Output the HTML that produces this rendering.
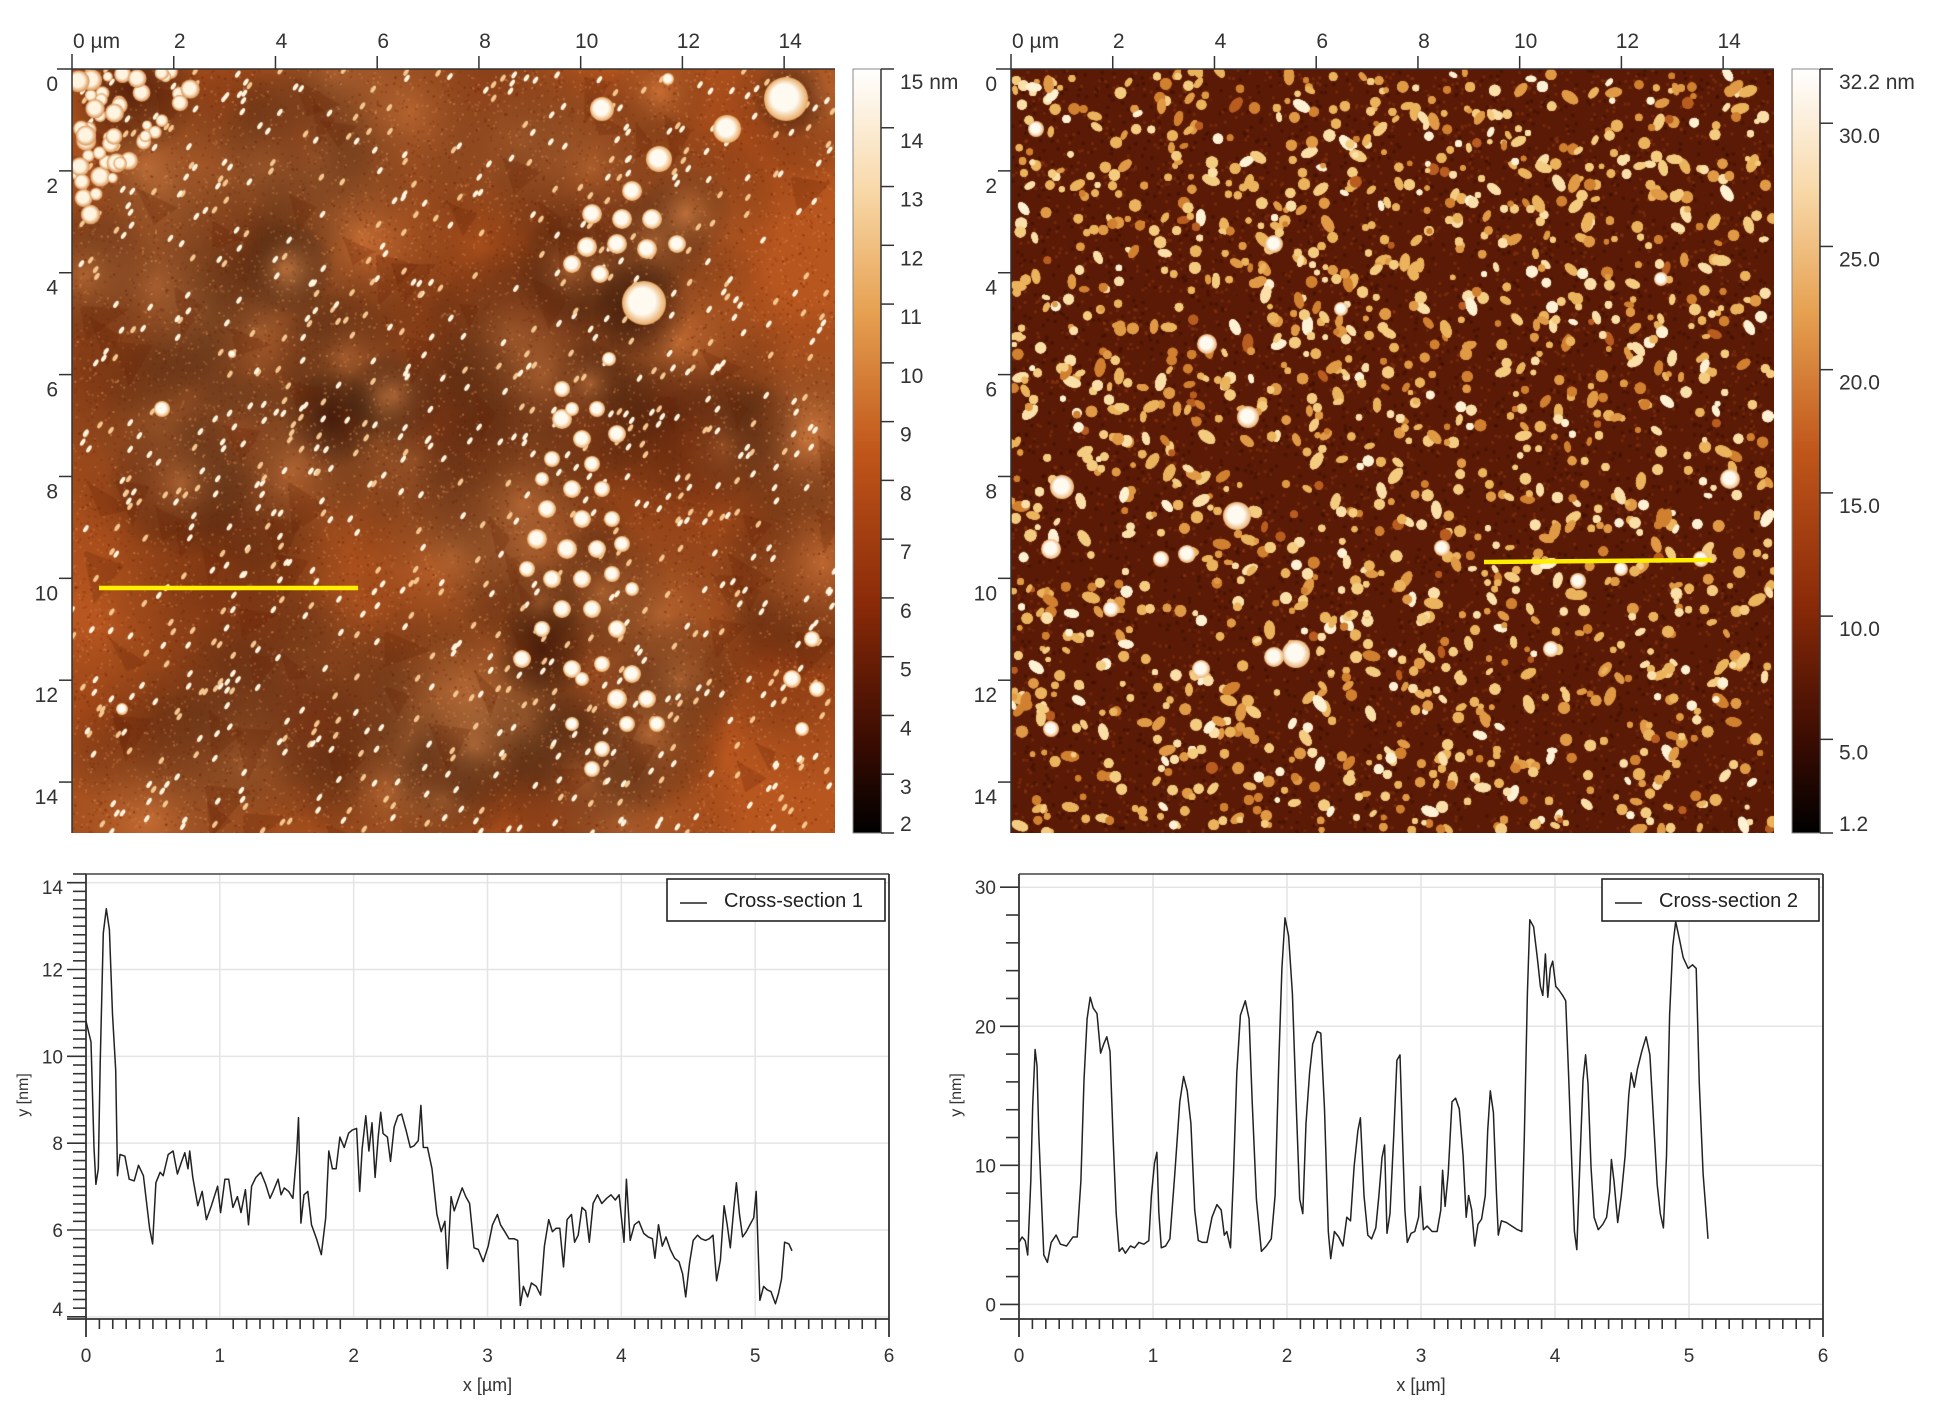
<!DOCTYPE html>
<html><head><meta charset="utf-8">
<style>
html,body{margin:0;padding:0;background:#fff;}
body{width:1942px;height:1415px;position:relative;overflow:hidden;font-family:"Liberation Sans",sans-serif;}
canvas{position:absolute;}
svg{position:absolute;left:0;top:0;}
</style></head>
<body>
<canvas id="img1" width="763" height="764" style="left:72px;top:69px"></canvas>
<canvas id="img2" width="763" height="764" style="left:1011px;top:69px"></canvas>
<svg id="ov" width="1942" height="1415"></svg>
<script>
// ---------- chart data ----------
const cs1X=[0,.037,.060,.074,.092,.106,.129,.152,.175,.198,.222,.235,.254,.291,.323,.360,.392,.429,.475,.498,.522,.554,.577,.614,.651,.683,.715,.738,.762,.775,.798,.835,.868,.900,.937,.983,1.006,1.038,1.066,1.098,1.131,1.158,1.191,1.214,1.237,1.269,1.306,1.343,1.375,1.398,1.435,1.458,1.482,1.514,1.546,1.574,1.588,1.606,1.629,1.657,1.685,1.722,1.758,1.791,1.814,1.841,1.869,1.897,1.929,1.962,1.989,2.022,2.045,2.063,2.091,2.114,2.137,2.160,2.183,2.202,2.220,2.252,2.275,2.303,2.331,2.358,2.391,2.423,2.451,2.483,2.502,2.520,2.552,2.585,2.622,2.654,2.682,2.700,2.728,2.751,2.783,2.811,2.838,2.866,2.899,2.931,2.968,3.005,3.037,3.074,3.097,3.129,3.161,3.198,3.226,3.245,3.268,3.300,3.328,3.365,3.397,3.425,3.457,3.485,3.512,3.540,3.568,3.595,3.628,3.651,3.678,3.706,3.734,3.761,3.789,3.822,3.854,3.891,3.923,3.955,3.983,4.020,4.038,4.066,4.098,4.131,4.168,4.200,4.232,4.251,4.278,4.306,4.334,4.366,4.398,4.431,4.458,4.481,4.509,4.537,4.569,4.597,4.629,4.657,4.685,4.712,4.740,4.768,4.791,4.814,4.841,4.860,4.883,4.906,4.934,4.961,4.989,5.008,5.035,5.063,5.091,5.118,5.151,5.174,5.197,5.220,5.252,5.275];
const cs1Y=[10.81,10.33,7.90,7.05,7.41,9.84,12.84,13.40,12.92,10.97,9.68,7.25,7.74,7.70,7.17,7.13,7.49,7.25,6.04,5.68,7.09,7.33,7.25,7.74,7.82,7.29,7.58,7.78,7.41,7.82,7.21,6.56,6.89,6.24,6.56,7.01,6.40,7.17,7.17,6.52,6.77,6.40,6.93,6.12,7.01,7.21,7.33,7.05,6.73,6.89,7.17,6.81,6.97,6.89,6.73,7.78,8.59,6.16,6.81,6.89,6.12,5.80,5.43,6.28,7.82,7.41,7.41,8.14,7.90,8.23,8.30,8.34,6.89,7.86,8.63,7.82,8.47,7.21,8.14,8.71,8.22,8.14,7.58,8.38,8.63,8.67,8.30,7.90,7.94,8.06,8.87,7.90,7.90,7.41,6.36,5.96,6.20,5.11,6.77,6.44,6.73,6.97,6.77,6.61,5.59,5.55,5.27,5.63,6.12,6.36,6.12,5.96,5.80,5.80,5.76,4.26,4.70,4.46,4.78,4.70,4.50,5.63,6.24,5.96,6.04,6.04,5.15,6.24,6.36,5.72,5.88,6.52,6.44,5.72,6.61,6.81,6.61,6.73,6.81,6.69,6.81,5.72,7.17,5.76,6.12,6.20,5.92,5.84,5.80,5.35,6.12,5.63,5.84,5.55,5.35,5.27,4.99,4.46,5.23,5.76,5.88,5.80,5.76,5.80,5.88,4.83,5.31,6.56,6.12,5.59,6.52,7.09,6.36,5.84,5.96,6.12,6.28,6.89,4.38,4.70,4.62,4.58,4.30,4.54,4.87,5.72,5.68,5.52];
const cs2X=[0,.023,.046,.065,.088,.102,.120,.134,.148,.171,.185,.212,.240,.277,.309,.355,.402,.434,.462,.485,.508,.531,.554,.582,.609,.632,.655,.679,.702,.725,.748,.771,.794,.831,.863,.895,.932,.969,.988,1.011,1.029,1.043,1.062,1.094,1.126,1.163,1.200,1.228,1.255,1.283,1.311,1.338,1.371,1.403,1.440,1.477,1.509,1.532,1.551,1.578,1.601,1.625,1.652,1.689,1.717,1.740,1.772,1.809,1.846,1.883,1.911,1.938,1.962,1.985,2.012,2.040,2.068,2.095,2.118,2.142,2.169,2.192,2.225,2.252,2.280,2.308,2.326,2.354,2.386,2.418,2.446,2.474,2.501,2.529,2.548,2.575,2.603,2.631,2.663,2.686,2.709,2.728,2.746,2.769,2.797,2.820,2.843,2.862,2.880,2.898,2.926,2.954,2.982,2.995,3.018,3.046,3.083,3.120,3.148,3.161,3.180,3.203,3.231,3.258,3.286,3.314,3.337,3.355,3.378,3.401,3.425,3.452,3.480,3.498,3.517,3.540,3.563,3.577,3.600,3.637,3.678,3.720,3.752,3.771,3.794,3.812,3.840,3.868,3.891,3.909,3.928,3.946,3.965,3.983,4.006,4.029,4.057,4.080,4.103,4.126,4.145,4.163,4.186,4.209,4.228,4.246,4.269,4.292,4.323,4.357,4.385,4.408,4.421,4.440,4.468,4.495,4.523,4.551,4.569,4.592,4.615,4.648,4.680,4.708,4.735,4.763,4.786,4.809,4.832,4.855,4.878,4.901,4.929,4.957,4.994,5.026,5.054,5.077,5.105,5.132,5.142];
const cs2Y=[4.46,4.85,4.59,3.55,8.87,14.31,18.33,17.16,12.24,6.79,3.55,3.03,4.46,4.98,4.33,4.20,4.85,4.85,8.87,16.13,20.53,22.09,21.31,20.92,18.07,18.72,19.24,18.20,11.98,6.53,3.81,4.07,3.68,4.20,4.07,4.46,4.33,4.59,7.83,10.16,10.94,6.66,4.07,4.20,4.72,9.39,14.57,16.39,15.35,13.02,6.79,4.59,4.46,4.46,6.27,7.18,6.79,4.98,5.24,4.07,9.39,16.65,20.79,21.83,20.53,14.57,7.57,3.81,4.20,4.72,7.83,17.16,24.16,27.79,26.50,22.35,14.57,7.57,6.53,13.02,16.65,18.72,19.63,19.50,14.05,5.24,3.29,5.24,4.85,4.20,6.27,6.01,9.90,12.50,13.41,7.83,4.98,4.72,5.50,7.83,10.55,11.46,5.11,6.53,12.24,17.55,17.94,11.98,6.79,4.46,5.11,5.24,6.27,8.48,5.37,5.63,5.24,5.24,6.79,9.65,7.05,9.39,14.57,14.83,14.05,10.68,6.27,7.83,6.79,4.20,5.76,6.14,7.83,12.50,15.35,13.80,8.09,4.98,6.01,5.89,5.63,5.37,5.24,11.98,22.35,27.66,27.15,24.94,22.87,22.22,25.20,22.09,24.16,24.68,22.87,22.61,22.22,21.83,16.13,9.90,5.24,3.94,10.16,16.13,17.94,15.87,9.90,6.27,5.37,5.76,6.27,8.09,10.42,8.87,5.89,7.83,10.68,15.09,16.65,15.61,16.91,18.20,19.24,17.94,13.28,8.61,6.53,5.50,10.68,20.79,25.72,27.53,26.24,24.94,24.16,24.42,24.16,15.87,9.39,6.01,4.72];
const xTicks=[0,1,2,3,4,5,6];
const y1Ticks=[4,6,8,10,12,14];
const y2Ticks=[0,10,20,30];
const imgTicks=[0,2,4,6,8,10,12,14];
const cb1Ticks=[2,3,4,5,6,7,8,9,10,11,12,13,14,15];
const cb1Labels=["2","3","4","5","6","7","8","9","10","11","12","13","14","15 nm"];
const cb2Ticks=[1.2,5,10,15,20,25,30,32.2];
const cb2Labels=["1.2","5.0","10.0","15.0","20.0","25.0","30.0","32.2 nm"];

const NS="http://www.w3.org/2000/svg";
const ov=document.getElementById('ov');
function mk(tag,attrs,parent){const e=document.createElementNS(NS,tag);for(const k in attrs)e.setAttribute(k,attrs[k]);(parent||ov).appendChild(e);return e;}
const FONT='"Liberation Sans", sans-serif';

// ---------- AFM image axes ----------
function imageAxes(ox,tag){
  const L=ox,T=69,W=763,H=764,R=15;
  const sx=v=>L+v/R*W, sy=v=>T+v/R*H;
  const g=mk('g',{});
  
  
  mk('line',{x1:L-15,y1:T,x2:L+W,y2:T,stroke:'#333','stroke-width':1.5},g);
  mk('line',{x1:L,y1:T-15,x2:L,y2:T+H,stroke:'#333','stroke-width':1.5},g);
  imgTicks.forEach(v=>{
    if(v>0){mk('line',{x1:sx(v),y1:T,x2:sx(v),y2:T-13,stroke:'#333','stroke-width':1.5},g);
            mk('line',{x1:L,y1:sy(v),x2:L-13,y2:sy(v),stroke:'#333','stroke-width':1.5},g);}
    const t=mk('text',{x:v===0?sx(v)+1:sx(v)+6,y:48,'font-size':21,'font-family':FONT,fill:'#333','text-anchor':v===0?'start':'middle'},g);
    t.textContent=v===0?'0 µm':String(v);
    
    
    const t2=mk('text',{x:L-14,y:sy(v)+22,'font-size':21,'font-family':FONT,fill:'#333','text-anchor':'end'},g);
    t2.textContent=String(v);
    
    
  });
}
imageAxes(72,'image-1');
imageAxes(1011,'image-2');

// ---------- colorbars ----------
function colorbar(x,ticks,labels,vmin,vmax,tag,id){
  const T=69,H=764,W=28;
  const def=mk('defs',{});
  const lg=mk('linearGradient',{id:id,x1:0,y1:1,x2:0,y2:0},def);
  [[0,'#000000'],[0.12,'#3a0c02'],[0.3,'#8a2a08'],[0.5,'#c0561a'],[0.68,'#e6a050'],[0.84,'#f8d8a8'],[1,'#ffffff']].forEach(s=>mk('stop',{offset:s[0],'stop-color':s[1]},lg));
  const r=mk('rect',{x:x,y:T,width:W,height:H,fill:'url(#'+id+')',stroke:'#888','stroke-width':1});
  
  
  const sy=v=>T+H-(v-vmin)/(vmax-vmin)*H;
  mk('line',{x1:x+W,y1:T,x2:x+W,y2:T+H,stroke:'#333','stroke-width':1.5});
  ticks.forEach((v,i)=>{
    mk('line',{x1:x+W,y1:sy(v),x2:x+W+13,y2:sy(v),stroke:'#333','stroke-width':1.5});
    let ly=sy(v)+20; if(ly>T+H-2)ly=T+H-2;
    const t=mk('text',{x:x+W+19,y:ly,'font-size':21,'font-family':FONT,fill:'#333'});
    t.textContent=labels[i];
    
    
  });
}
colorbar(853,cb1Ticks,cb1Labels,2,15,'colorbar-1','cbg1');
colorbar(1792,cb2Ticks,cb2Labels,1.2,32.2,'colorbar-2','cbg2');

// ---------- cross-section charts ----------
function chart(o){
  const {L,R,T,B,ymin,ymax,yTicks,minor,xs,ys,name,tag,lx1,lx2}=o;
  const sx=v=>L+v/6*(R-L), sy=v=>B-(v-ymin)/(ymax-ymin)*(B-T);
  const g=mk('g',{});
  
  
  xTicks.forEach(v=>{if(v>0&&v<6)mk('line',{x1:sx(v),y1:T,x2:sx(v),y2:B,stroke:'#e4e4e4','stroke-width':1.5},g);});
  yTicks.forEach(v=>{if(v>ymin&&v<ymax)mk('line',{x1:L,y1:sy(v),x2:R,y2:sy(v),stroke:'#e4e4e4','stroke-width':1.5},g);});
  mk('line',{x1:L,y1:T,x2:R,y2:T,stroke:'#444','stroke-width':1.5},g);
  mk('line',{x1:R,y1:T,x2:R,y2:B+18,stroke:'#333','stroke-width':1.8},g);
  mk('line',{x1:L,y1:T,x2:L,y2:B+18,stroke:'#333','stroke-width':1.8},g);
  mk('line',{x1:L-19,y1:B,x2:R,y2:B,stroke:'#333','stroke-width':1.8},g);
  for(let i=1;i<60;i++){if(i%10)mk('line',{x1:sx(i/10),y1:B,x2:sx(i/10),y2:B+10,stroke:'#333','stroke-width':1.6},g);}
  xTicks.forEach(v=>{
    const t=mk('text',{x:sx(v),y:1362,'font-size':19,'font-family':FONT,fill:'#333','text-anchor':'middle'},g);
    t.textContent=String(v);
    
    
  });
  for(let v=Math.ceil(ymin/minor)*minor;v<=ymax+1e-9;v+=minor){
    const major=yTicks.some(k=>Math.abs(k-v)<1e-6);
    mk('line',{x1:L,y1:sy(v),x2:L-(major?19:13),y2:sy(v),stroke:'#333','stroke-width':1.6},g);
  }
  yTicks.forEach(v=>{
    let y=sy(v)+7; if(y>B-3)y=B-3; if(y<T+20)y=T+20;
    const t=mk('text',{x:L-23,y:y,'font-size':19,'font-family':FONT,fill:'#333','text-anchor':'end'},g);
    t.textContent=String(v);
    
    
  });
  const xt=mk('text',{x:(L+R)/2,y:1391,'font-size':18,'font-family':FONT,fill:'#333','text-anchor':'middle'},g);
  xt.textContent='x [µm]';
  
  
  const yt=mk('text',{x:0,y:0,'font-size':16,'font-family':FONT,fill:'#333','text-anchor':'middle',transform:'translate('+(L-58)+',1095) rotate(-90)'},g);
  yt.textContent='y [nm]';
  
  
  let d='';xs.forEach((x,i)=>{d+=(i?'L':'M')+sx(x).toFixed(1)+' '+sy(ys[i]).toFixed(1);});
  const p=mk('path',{d:d,fill:'none',stroke:'#222','stroke-width':1.5,'stroke-linejoin':'round'},g);
  
  
  const lg=mk('g',{},g);
  
  
  mk('rect',{x:lx1,y:879,width:lx2-lx1,height:42,fill:'#fff',stroke:'#222','stroke-width':1.6},lg);
  mk('line',{x1:lx1+13,y1:903,x2:lx1+40,y2:903,stroke:'#222','stroke-width':1.6},lg);
  const lt=mk('text',{x:lx1+57,y:907,'font-size':20,'font-family':FONT,fill:'#222'},lg);
  lt.textContent=name;
}
chart({L:86,R:889,T:874,B:1319,ymin:3.95,ymax:14.2,yTicks:y1Ticks,minor:0.2,xs:cs1X,ys:cs1Y,name:'Cross-section 1',tag:'cross-section-1-chart',lx1:667,lx2:885});
chart({L:1019,R:1823,T:874,B:1319,ymin:-1.05,ymax:30.95,yTicks:y2Ticks,minor:2,xs:cs2X,ys:cs2Y,name:'Cross-section 2',tag:'cross-section-2-chart',lx1:1602,lx2:1819});

// yellow profile lines
const yl1=mk('line',{x1:99,y1:588,x2:358,y2:588,stroke:'#ffee00','stroke-width':4.5});


const yl2=mk('line',{x1:1484,y1:562,x2:1712,y2:560,stroke:'#ffee00','stroke-width':4.5});



// ---------- AFM textures (decorative) ----------
let seed=12345;function rnd(){seed=(seed*1103515245+12345)&0x7fffffff;return seed/0x7fffffff;}
function blob(ctx,x,y,r,c0,c1){const g=ctx.createRadialGradient(x-r*0.2,y-r*0.2,0,x,y,r);g.addColorStop(0,c0);g.addColorStop(0.6,c0);g.addColorStop(1,c1);ctx.fillStyle=g;ctx.beginPath();ctx.arc(x,y,r,0,7);ctx.fill();}
(function(){
  const c=document.getElementById('img1').getContext('2d');
  c.fillStyle='#b8561f';c.fillRect(0,0,763,764);
  for(let i=0;i<110;i++){const x=rnd()*763,y=rnd()*764,r=40+rnd()*110;const light=rnd()<0.6;
    const g=c.createRadialGradient(x,y,0,x,y,r);g.addColorStop(0,light?'rgba(222,140,78,0.45)':'rgba(120,40,10,0.28)');g.addColorStop(1,'rgba(0,0,0,0)');c.fillStyle=g;c.fillRect(x-r,y-r,2*r,2*r);}
  [[570,240,50],[260,350,50],[60,20,70],[720,30,40],[470,580,50]].forEach(d=>{const g=c.createRadialGradient(d[0],d[1],0,d[0],d[1],d[2]);g.addColorStop(0,'rgba(40,5,0,0.6)');g.addColorStop(1,'rgba(0,0,0,0)');c.fillStyle=g;c.fillRect(d[0]-d[2],d[1]-d[2],2*d[2],2*d[2]);});
  for(let i=0;i<14000;i++){c.fillStyle=rnd()<0.5?'rgba(225,150,90,0.3)':'rgba(110,35,8,0.3)';c.fillRect(rnd()*763,rnd()*764,2,2);}
  for(let i=0;i<80;i++){const x=rnd()*763,y=rnd()*764;c.fillStyle='rgba(100,30,5,0.25)';c.beginPath();c.moveTo(x,y);c.lineTo(x+20+rnd()*30,y+rnd()*30);c.lineTo(x+rnd()*20,y+25+rnd()*30);c.fill();}
  for(let i=0;i<900;i++){const x=rnd()*763,y=rnd()*764;c.save();c.translate(x,y);c.rotate(-1.0);c.fillStyle=rnd()<0.6?'#fff6e0':'#f4c890';c.beginPath();c.ellipse(0,0,4,2,0,0,7);c.fill();c.restore();}
  const big=[[714,30,22],[587,90,13],[655,60,14],[530,40,12],[596,10,6],[560,122,10],[520,145,10],[550,150,10],[580,150,10],[545,175,10],[575,180,10],[605,175,9],[515,178,10],[500,195,9],[528,205,9],[572,234,22],[537,290,7],[490,320,8],[525,340,8],[545,365,9],[490,350,10],[510,370,9],[480,390,8],[520,395,8],[500,420,9],[530,420,8],[475,440,9],[510,450,9],[540,450,8],[465,470,10],[495,480,10],[525,480,9],[550,475,8],[480,510,9],[510,510,9],[540,505,8],[490,540,9],[520,540,9],[470,560,8],[545,560,9],[450,590,9],[500,600,9],[530,595,8],[560,605,9],[545,630,10],[575,630,9],[555,655,8],[510,610,7],[90,340,8],[740,570,8],[720,610,9],[745,620,8],[730,660,7],[520,700,8],[160,285,4],[50,640,6],[500,340,7],[470,410,7],[455,500,8],[560,520,7],[530,680,8],[585,655,8],[500,655,7]];
  big.forEach(b=>blob(c,b[0],b[1],b[2],'#fffaf0','#e8a860'));
  for(let i=0;i<90;i++){const x=rnd()*150,y=rnd()*150;if(x+y*0.75<130)blob(c,x+4,y,5+rnd()*6,'#fff4e0','#d89050');}
})();
(function(){
  const c=document.getElementById('img2').getContext('2d');
  c.fillStyle='#5a1a05';c.fillRect(0,0,763,764);
  for(let i=0;i<8000;i++){c.fillStyle=rnd()<0.5?'rgba(160,70,25,0.35)':'rgba(40,8,0,0.35)';c.fillRect(rnd()*763,rnd()*764,3,3);}
  const cols=['#b85c20','#d0802f','#e09a45','#ebb35c','#f4cc80','#fae0a8','#fff2d4'];
  for(let i=0;i<7500;i++){const x=rnd()*763,y=rnd()*764;const r=2.5+rnd()*3.5;
    const k=Math.min(6,Math.floor(rnd()*4+rnd()*3.5));
    c.fillStyle=cols[k];c.beginPath();
    if(rnd()<0.3){c.ellipse(x,y,r*1.6,r*0.9,rnd()*3,0,7);}else{c.arc(x,y,r,0,7);}c.fill();}
  const big=[[285,585,14],[226,447,14],[51,418,12],[237,348,11],[196,275,10],[263,175,9],[719,410,10],[176,485,9],[567,512,8],[431,479,8],[263,588,10],[40,480,10],[25,60,8],[190,600,9],[540,580,8],[690,490,8],[150,490,8],[330,240,7],[610,500,7],[40,660,8],[650,210,7],[100,540,8]];
  big.forEach(b=>blob(c,b[0],b[1],b[2],'#fffaf0','#eab070'));
})();
</script>
</body></html>
